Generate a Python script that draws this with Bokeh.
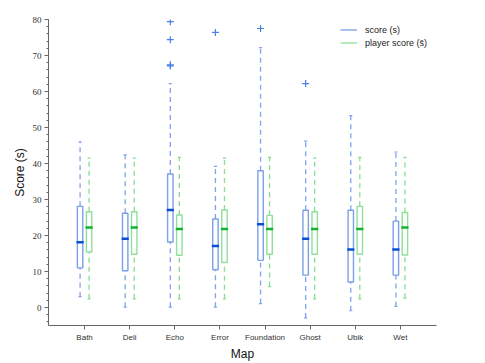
import numpy as np
from bokeh.plotting import figure
from bokeh.models import FixedTicker, SingleIntervalTicker, Range1d, Legend, LegendItem, ColumnDataSource
from bokeh.embed import file_html
from bokeh.resources import INLINE

maps = ["Bath", "Deli", "Echo", "Error", "Foundation", "Ghost", "Ubik", "Wet"]

score_lower = [3.0, 0.1, 0.1, 0.1, 1.1, -2.9, -0.9, 0.3]
score_q1 = [11.0, 10.2, 18.2, 10.5, 13.1, 9.0, 7.1, 9.0]
score_median = [18.1, 19.1, 27.1, 17.1, 23.1, 19.1, 16.1, 16.1]
score_q3 = [28.1, 26.2, 37.1, 24.6, 38.0, 27.0, 27.0, 24.0]
score_upper = [46.0, 42.4, 62.2, 39.2, 72.2, 46.2, 53.3, 43.2]
score_outlier_maps = ["Echo", "Echo", "Echo", "Echo", "Error", "Foundation", "Ghost"]
score_outliers = [79.4, 74.4, 67.4, 67.1, 76.4, 77.5, 62.2]

player_lower = [2.4, 2.4, 2.4, 2.4, 5.8, 2.4, 2.4, 2.6]
player_q1 = [15.4, 14.8, 14.5, 12.5, 14.8, 14.8, 14.8, 14.6]
player_median = [22.2, 22.2, 21.8, 21.8, 21.8, 21.8, 21.8, 22.2]
player_q3 = [26.6, 26.6, 25.7, 27.1, 25.6, 26.6, 28.1, 26.4]
player_upper = [41.5, 41.5, 41.7, 41.5, 41.7, 41.5, 41.7, 41.7]

y_tick_interval = 10

OFFSET = 0.1
BOX_W = 0.12
MED_W = 0.16
CAP_HW = 0.035

BLUE_BOX = "#7b9fe8"
BLUE_MED = "#0a4fd8"
BLUE_WHISK = "#7fa4ec"
BLUE_OUT = "#4a7fe6"
GREEN_BOX = "#8fe09a"
GREEN_MED = "#14b030"
GREEN_WHISK = "#86dd93"

p = figure(width=485, height=363, output_backend="svg", toolbar_location=None,
           x_range=Range1d(-0.8, 7.8), y_range=Range1d(-5, 80),
           min_border_left=48, min_border_right=49, min_border_top=19, min_border_bottom=37)
p.outline_line_color = None
p.xgrid.visible = False
p.ygrid.visible = False
p.background_fill_color = "white"


def draw_series(offset, lower, q1, med, q3, upper, box_c, med_c, wh_c):
    x = np.arange(len(maps)) + offset
    src = ColumnDataSource(dict(x=x, lower=lower, q1=q1, med=med, q3=q3, upper=upper,
                                cl=x - CAP_HW, cr=x + CAP_HW,
                                ml=x - MED_W / 2, mr=x + MED_W / 2))
    p.segment(x0="x", y0="q3", x1="x", y1="upper", source=src, line_color=wh_c,
              line_width=1.3, line_dash="5 4")
    p.segment(x0="x", y0="lower", x1="x", y1="q1", source=src, line_color=wh_c,
              line_width=1.3, line_dash="5 4")
    p.segment(x0="cl", y0="upper", x1="cr", y1="upper", source=src, line_color=wh_c, line_width=1.2)
    p.segment(x0="cl", y0="lower", x1="cr", y1="lower", source=src, line_color=wh_c, line_width=1.2)
    p.vbar(x="x", top="q3", bottom="q1", width=BOX_W, source=src, fill_color="white",
           fill_alpha=0.0, line_color=box_c, line_width=1.4)
    p.segment(x0="ml", y0="med", x1="mr", y1="med", source=src, line_color=med_c, line_width=2.5)


draw_series(-OFFSET, score_lower, score_q1, score_median, score_q3, score_upper,
            BLUE_BOX, BLUE_MED, BLUE_WHISK)
draw_series(OFFSET, player_lower, player_q1, player_median, player_q3, player_upper,
            GREEN_BOX, GREEN_MED, GREEN_WHISK)

out_x = [maps.index(m) - OFFSET for m in score_outlier_maps]
p.scatter(x=out_x, y=score_outliers, marker="cross", size=7, line_color=BLUE_OUT, line_width=1.2)

leg_blue = p.line(x=[np.nan], y=[np.nan], line_color=BLUE_BOX, line_width=1.3)
leg_green = p.line(x=[np.nan], y=[np.nan], line_color=GREEN_BOX, line_width=1.3)
legend = Legend(items=[LegendItem(label="score (s)", renderers=[leg_blue]),
                       LegendItem(label="player score (s\u0304)", renderers=[leg_green])],
                location=(292, 276), padding=0, margin=0, spacing=0,
                glyph_width=17, glyph_height=13, label_height=13, label_standoff=8,
                label_text_font="Liberation Sans", label_text_font_size="9px",
                label_text_color="#222222",
                border_line_alpha=0, background_fill_alpha=0)
p.add_layout(legend)

# axes
for ax in (p.xaxis[0], p.yaxis[0]):
    ax.axis_line_color = "#666666"
    ax.major_tick_line_color = "#666666"
    ax.minor_tick_line_color = "#666666"
    ax.major_tick_in = 0
    ax.minor_tick_in = 0
    ax.major_tick_out = 4
    ax.minor_tick_out = 2
    ax.major_label_text_color = "#333333"
    ax.axis_label_text_font = "Liberation Sans"
    ax.axis_label_text_font_style = "normal"
    ax.axis_label_text_color = "#111111"
    ax.axis_label_text_font_size = "12px"

p.xaxis.ticker = FixedTicker(ticks=list(range(len(maps))))
p.xaxis.major_label_overrides = {i: m for i, m in enumerate(maps)}
p.xaxis.major_label_text_font = "Liberation Sans"
p.xaxis.major_label_text_font_size = "8px"
p.xaxis.major_label_standoff = 3
p.xaxis.axis_label = "Map"
p.xaxis.axis_label_standoff = 2
p.xaxis.minor_tick_line_color = None

p.yaxis.ticker = SingleIntervalTicker(interval=y_tick_interval, num_minor_ticks=5)
p.yaxis.major_label_text_font = "Liberation Serif"
p.yaxis.major_label_text_font_size = "9px"
p.yaxis.major_label_standoff = 3
p.yaxis.axis_label = "Score (s)"
p.yaxis.axis_label_standoff = 3

open("out.html", "w").write(file_html(p, INLINE))
